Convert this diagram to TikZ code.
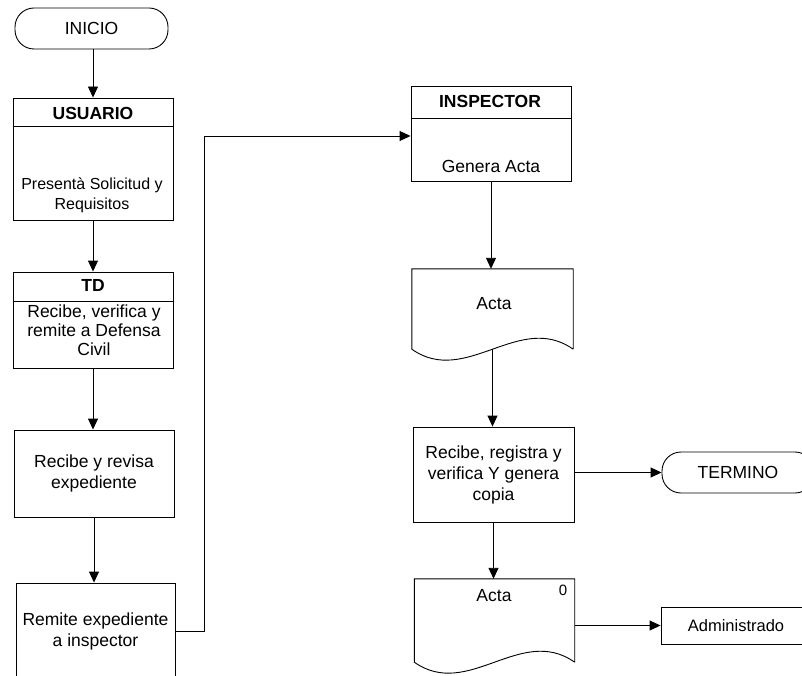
\documentclass[tikz,border=0pt]{standalone}
\usepackage{fontspec}
\setmainfont{Liberation Sans}
\usetikzlibrary{arrows.meta}
\begin{document}
\begin{tikzpicture}[x=1pt,y=-1pt,
  font=\fontsize{17.5}{21}\selectfont,
  stroke/.style={draw, line width=0.9pt},
  box/.style={stroke, rectangle, inner sep=0pt},
  term/.style={stroke, rectangle, rounded corners=19pt, inner sep=0pt},
  area/.style={rectangle, inner sep=0pt},
  txt/.style={align=center, inner sep=0pt},
  head/.style={txt, font=\fontsize{17.5}{21}\selectfont\bfseries},
  flow/.style={line width=0.9pt, -{Triangle[length=11pt,width=10pt]}}]
\clip (0,0) rectangle (802,676);
\fill[white] (0,0) rectangle (802,676);

% left column
\node[term, minimum width=153pt, minimum height=41pt] (inicio) at (91.5,28.5) {INICIO};

\node[box, minimum width=160pt, minimum height=122pt] (usuario) at (93,159) {};
\draw[line width=0.9pt] (usuario.west |- 0,126) -- (usuario.east |- 0,126);
\node[head] (usuarioH) at (93,113) {USUARIO};
\node[txt, font=\fontsize{16}{20}\selectfont] (usuarioB) at (92,195) {Presentà Solicitud y\\Requisitos};

\node[box, minimum width=160pt, minimum height=96pt] (td) at (93,320) {};
\draw[line width=0.9pt] (td.west |- 0,301) -- (td.east |- 0,301);
\node[head] (tdH) at (93,285) {TD};
\node[txt, font=\fontsize{17.5}{18.8}\selectfont] (tdB) at (94,330) {Recibe, verifica y\\remite a Defensa\\Civil};

\node[box, minimum width=160pt, minimum height=87pt, txt] (revisa) at (94,473.5) {Recibe y revisa\\expediente};

\node[box, minimum width=159pt, minimum height=97pt, txt] (remite) at (95.5,631.5) {Remite expediente\\a inspector};

% right column
\node[box, minimum width=160pt, minimum height=95pt] (inspector) at (491,133.5) {};
\draw[line width=0.9pt] (inspector.west |- 0,118) -- (inspector.east |- 0,118);
\node[head] (inspectorH) at (490,101) {INSPECTOR};
\node[txt] (inspectorB) at (491,166) {Genera Acta};

\node[area, minimum width=161pt, minimum height=80pt] (acta1) at (492.5,309) {};
\draw[line width=0.9pt] (acta1.south east) -- (acta1.north east) -- (acta1.north west) -- (acta1.south west)
  .. controls +(54,38) and +(-54,-38) .. (acta1.south east);
\node[txt] (acta1T) at (494,304) {Acta};

\node[box, minimum width=161pt, minimum height=95pt, txt] (registra) at (493.5,474.5) {Recibe, registra y\\verifica Y genera\\copia};

\node[term, minimum width=152pt, minimum height=41pt] (termino) at (738,472.5) {};
\node[txt] (terminoT) at (738,472) {TERMINO};

\node[area, minimum width=160pt, minimum height=83pt] (acta2) at (494.5,620.5) {};
\draw[line width=0.9pt] (acta2.south east) -- (acta2.north east) -- (acta2.north west) -- (acta2.south west)
  .. controls +(54,38) and +(-54,-38) .. (acta2.south east);
\node[txt] (acta2T) at (494,596) {Acta};
\node[txt, font=\fontsize{15}{18}\selectfont] (acta2N) at (563,590) {0};

\node[box, minimum width=150pt, minimum height=37pt] (admin) at (736,625.5) {};
\node[txt, font=\fontsize{16.5}{20}\selectfont] (adminT) at (736,626) {Administrado};

% connectors
\draw[flow] (inicio.south -| usuario.north) -- (usuario.north);
\draw[flow] (usuario.south) -- (td.north);
\draw[flow] (td.south) -- (td.south |- revisa.north);
\draw[flow] (revisa.south) -- (revisa.south |- remite.north);
\draw[flow] (remite.east) -- ++(29,0) |- ([yshift=-2.5pt]inspector.west);
\draw[flow] (inspector.south) -- (inspector.south |- acta1.north);
\draw[flow] (acta1.south) -- (acta1.south |- registra.north);
\draw[flow] (registra.east |- termino.west) -- (termino.west);
\draw[flow] (registra.south) -- (registra.south |- acta2.north);
\draw[flow] (acta2.east |- admin.west) -- (admin.west);
\end{tikzpicture}
\end{document}
